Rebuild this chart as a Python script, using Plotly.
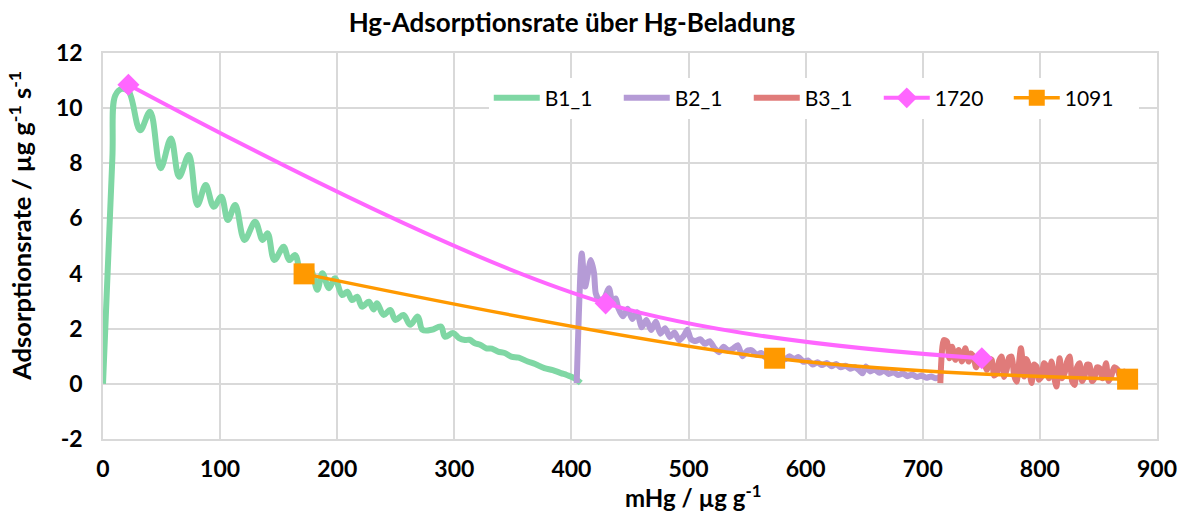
import plotly.graph_objects as go

# ---------------- data ----------------
b1_x = [0, 8, 10.4, 16.1, 22, 31.7, 40.2, 49.2, 58, 65, 73.3, 80.6, 87.7, 94.5, 101, 106.6,
        112.9, 120.8, 129.9, 136.3, 140.6, 146.3, 154.2, 159, 164.1, 170, 177, 183, 187.3,
        193, 198, 204.2, 208.5, 212.7, 217, 221.2, 227, 231, 234, 239.6, 245.3, 249.6,
        256.6, 262.3, 268.8, 272.8, 280.6, 288.6, 292, 299, 304, 309, 313, 317.5, 322, 327.3,
        332, 337.3, 343, 348.6, 355, 362.7, 369, 376.9, 384, 391, 396, 402.4, 408]
b1_y = [0, 8.2, 10.45, 10.7, 10.6, 9.2, 9.87, 7.82, 8.9, 7.51, 8.3, 6.49, 7.21, 6.42, 6.79, 5.94,
        6.49, 5.22, 5.88, 5.22, 5.46, 4.49, 4.97, 4.49, 4.67, 3.85, 4.15, 3.41, 4.01,
        3.47, 3.83, 3.22, 3.34, 3.04, 3.16, 2.80, 2.98, 2.7, 2.92, 2.5, 2.68, 2.32,
        2.5, 2.14, 2.44, 1.96, 1.96, 2.08, 1.71, 1.84, 1.66, 1.59, 1.6, 1.47, 1.42, 1.29,
        1.28, 1.17, 1.12, 0.99, 0.95, 0.81, 0.72, 0.57, 0.5, 0.39, 0.32, 0.21, 0.03]

b2_x = [404.5, 408.8, 411.7, 416.5, 419.3, 420.7, 423.6, 427.8, 432.1, 435, 437.7, 440, 444,
        448, 452, 456, 460, 464, 468, 472, 476, 480, 484, 488, 492, 496, 499, 502, 506, 510,
        514, 518, 522, 526, 530, 534, 538, 542, 546, 550, 554, 558, 562, 566, 570, 574, 578,
        582, 586, 590, 594, 598, 602, 606, 610, 614, 618, 622, 626, 630, 634, 638, 642, 646,
        648.6, 651.4, 655, 659, 663, 667, 671, 675, 679, 683, 687, 691, 695, 699, 703, 707,
        711, 714]
b2_y = [0.03, 4.73, 3.53, 4.49, 4.01, 3.29, 3.04, 3.1, 3.47, 2.9, 3.1, 2.75, 2.45,
        2.72, 2.35, 2.6, 2.05, 2.32, 1.95, 2.25, 1.82, 2.02, 1.7, 1.86, 1.58, 1.75, 1.96, 1.62,
        1.55, 1.62, 1.45, 1.55, 1.3, 1.15, 1.35, 1.2, 1.28, 1.4, 1.0, 1.2, 1.22, 1.05, 1.12,
        0.95, 1.05, 0.92, 1.02, 0.88, 1.0, 0.9, 0.97, 0.8, 0.85, 0.7, 0.78, 0.68, 0.76, 0.64,
        0.72, 0.6, 0.66, 0.55, 0.6, 0.48, 0.38, 0.63, 0.45, 0.52, 0.4, 0.48, 0.36, 0.42, 0.32,
        0.38, 0.28, 0.34, 0.25, 0.3, 0.22, 0.27, 0.2, 0.24]

b3_x = [715, 717.9, 720.7, 722.7, 725, 727.8, 730.6, 733.4, 736.3, 739.1, 741, 743.3, 745.5,
        747.5, 751, 754.7, 756.8, 758.9, 761, 763.2, 765.3, 767.4, 769.5, 771.6, 773.7, 775.9,
        778, 780.1, 783.8, 786.6, 788.3, 790, 792.9, 795, 797.1, 799.2, 801.4, 803.5, 805.6,
        807.7, 809.9, 812, 814.1, 816.9, 819, 821.1, 823.2, 825.4, 827.5, 829.6, 831.7, 833.9,
        836, 838.1, 840.2, 842.4, 844.5, 846.6, 848.7, 850.9, 853.5, 856.5, 858.6, 860.8,
        863.5, 866.4, 869, 872.1, 875]
b3_y = [0.03, 1.59, 1.53, 0.93, 1.35, 0.87, 1.23, 0.81, 1.29, 0.81, 1.1, 0.99, 0.6,
        0.75, 0.95, 0.51, 0.9, 0.87, 0.3, 0.39, 0.85, 0.99, 0.25, 0.51, 0.95, 0.99,
        0.3, 0.08, 1.29, 0.27, 0.9, 0.75, 0.03, 0.7, 0.63, 0.15, 0.27, 0.75, 0.63,
        0.2, 0.81, 0.3, -0.1, 0.93, 0.2, 0.39, 0.8, 0.99, 0.1, -0.04, 0.6, 0.75,
        0.1, 0.27, 0.7, 0.69, 0.1, 0.21, 0.6, 0.57, 0.2, 0.75, 0.1, 0.27,
        0.6, 0.51, 0.15, 0.45, 0.25]

s1720_x = [21.7, 429.2, 750.4]
s1720_y = [10.85, 2.92, 0.93]

s1091_x = [171.7, 573.5, 874.9]
s1091_y = [3.99, 0.93, 0.17]

x_ticks = [0, 100, 200, 300, 400, 500, 600, 700, 800, 900]
y_ticks = [-2, 0, 2, 4, 6, 8, 10, 12]

FONT = "Lato"
GRID = "#d9d9d9"

fig = go.Figure()
fig.add_trace(go.Scatter(x=b1_x, y=b1_y, name="B1_1", mode="lines",
                         line=dict(color="#7fd7a4", width=6, shape="spline", smoothing=1.0)))
fig.add_trace(go.Scatter(x=b2_x, y=b2_y, name="B2_1", mode="lines",
                         line=dict(color="#b59bd6", width=6, shape="spline", smoothing=0.6)))
fig.add_trace(go.Scatter(x=b3_x, y=b3_y, name="B3_1", mode="lines",
                         line=dict(color="#e07b7a", width=6, shape="spline", smoothing=0.6)))
fig.add_trace(go.Scatter(x=s1720_x, y=s1720_y, name="1720", mode="lines+markers",
                         line=dict(color="#ff66ff", width=4, shape="spline", smoothing=1.0),
                         marker=dict(symbol="diamond", size=17, color="#ff66ff")))
fig.add_trace(go.Scatter(x=s1091_x, y=s1091_y, name="1091", mode="lines+markers",
                         line=dict(color="#ff9900", width=3.5, shape="spline", smoothing=1.0),
                         marker=dict(symbol="square", size=21, color="#ff9900")))

axis_common = dict(showgrid=True, gridcolor=GRID, gridwidth=1.5, zeroline=False,
                   showline=True, linecolor=GRID, linewidth=1.5, mirror=True,
                   ticks="", tickfont=dict(family=FONT, size=23, color="#000000", weight="bold"))

fig.update_layout(
    width=1189, height=513,
    margin=dict(l=103, r=26, t=53, b=74),
    paper_bgcolor="white", plot_bgcolor="white",
    font=dict(family=FONT, color="#000000"),
    title=dict(text="<b>Hg-Adsorptionsrate über Hg-Beladung</b>", xref="container", x=0.481,
               xanchor="center", yref="container", y=0.955, yanchor="middle",
               font=dict(family=FONT, size=26, color="#000000")),
    xaxis=dict(range=[0, 900], tickvals=x_ticks, ticktext=[str(v) for v in x_ticks],
               ticklabelstandoff=9, **axis_common),
    yaxis=dict(range=[-2, 12], tickvals=y_ticks, ticktext=[str(v) for v in y_ticks],
               ticklabelstandoff=14, **axis_common),
    legend=dict(orientation="h", x=0.366, y=0.883, xanchor="left", yanchor="middle",
                bgcolor="rgba(255,255,255,1)", entrywidth=69, entrywidthmode="pixels",
                font=dict(family=FONT, size=21, color="#000000"), itemwidth=46),
    showlegend=True,
)

fig.add_annotation(text="<b>mHg / µg g<sup>-1</sup></b>", xref="paper", yref="paper",
                   x=0.5596, y=-0.147, xanchor="center", yanchor="middle", showarrow=False,
                   font=dict(family=FONT, size=24, color="#000000"))
fig.add_annotation(text="<b>Adsorptionsrate / µg g<sup>-1</sup> s<sup>-1</sup></b>", xref="paper",
                   yref="paper", x=-0.079, y=0.5515, xanchor="center", yanchor="middle",
                   textangle=-90, showarrow=False,
                   font=dict(family=FONT, size=25.5, color="#000000"))

fig.write_html("out.html")
